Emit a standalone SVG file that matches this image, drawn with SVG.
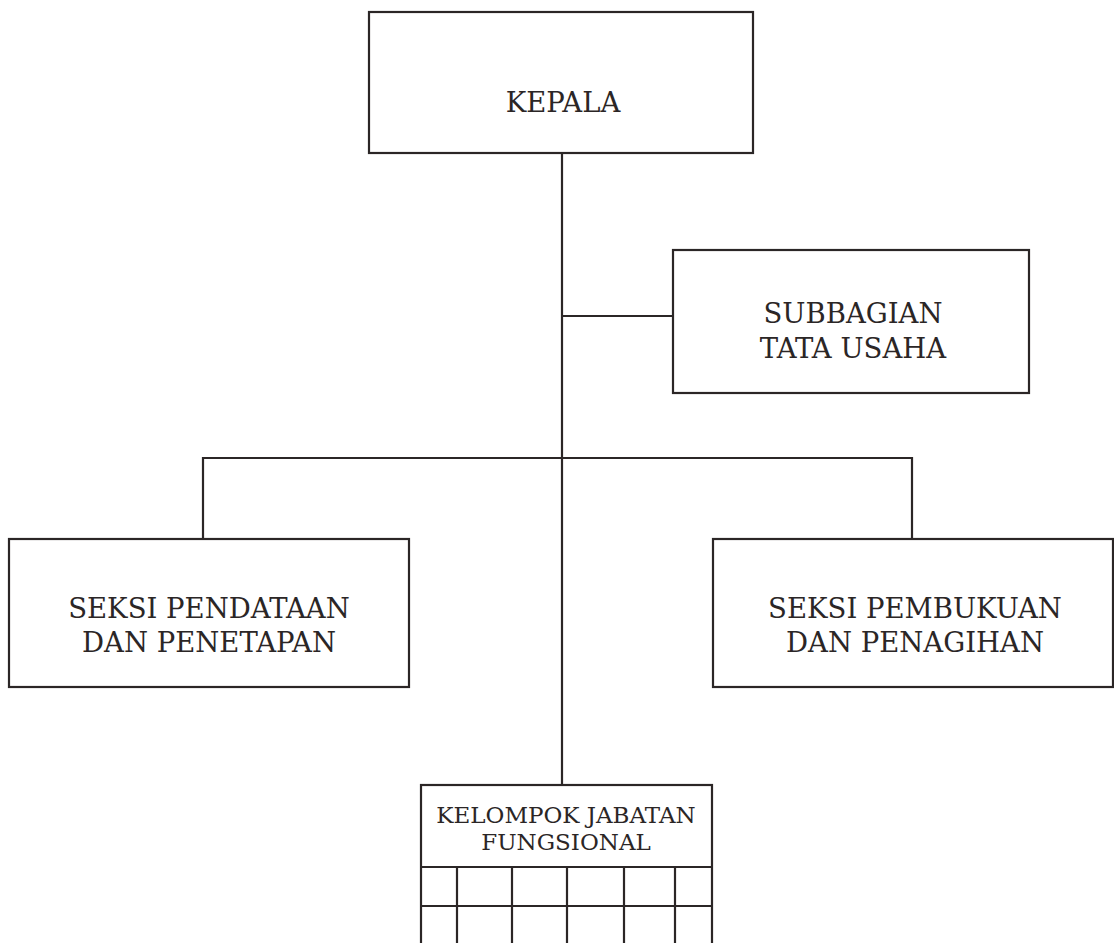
<svg xmlns="http://www.w3.org/2000/svg" width="1114" height="943" viewBox="0 0 1114 943">
<style>
.box{fill:#fff;stroke:#2b2626;stroke-width:2.2}
.ln{fill:none;stroke:#2b2626;stroke-width:2.2}
.t{font-family:"DejaVu Serif","Liberation Serif",serif;fill:#2b2626;text-anchor:middle;font-size:27.5px}
.s{font-size:23px}
</style>
<rect width="1114" height="943" fill="#fff"/>
<g id="connectors">
<line class="ln" x1="562" y1="153" x2="562" y2="785"/>
<line class="ln" x1="562" y1="316" x2="673" y2="316"/>
<polyline class="ln" points="203,539 203,458 912,458 912,539"/>
</g>
<g id="kepala">
<rect class="box" x="369" y="12" width="384" height="141"/>
<text class="t" x="563" y="112">KEPALA</text>
</g>
<g id="subbagian">
<rect class="box" x="673" y="250" width="356" height="143"/>
<text class="t" x="853" y="323">SUBBAGIAN</text>
<text class="t" x="853" y="358">TATA USAHA</text>
</g>
<g id="seksi-pendataan">
<rect class="box" x="9" y="539" width="400" height="148"/>
<text class="t" x="209" y="618">SEKSI PENDATAAN</text>
<text class="t" x="209" y="652">DAN PENETAPAN</text>
</g>
<g id="seksi-pembukuan">
<rect class="box" x="713" y="539" width="400" height="148"/>
<text class="t" x="915" y="618">SEKSI PEMBUKUAN</text>
<text class="t" x="915" y="652">DAN PENAGIHAN</text>
</g>
<g id="kelompok">
<rect class="box" x="421" y="785" width="291" height="170"/>
<text class="t s" x="566" y="823">KELOMPOK JABATAN</text>
<text class="t s" x="566" y="850">FUNGSIONAL</text>
<line class="ln" x1="421" y1="867" x2="712" y2="867"/>
<line class="ln" x1="421" y1="906" x2="712" y2="906"/>
<line class="ln" x1="457" y1="867" x2="457" y2="943"/>
<line class="ln" x1="512" y1="867" x2="512" y2="943"/>
<line class="ln" x1="567" y1="867" x2="567" y2="943"/>
<line class="ln" x1="624" y1="867" x2="624" y2="943"/>
<line class="ln" x1="675" y1="867" x2="675" y2="943"/>
</g>
</svg>
